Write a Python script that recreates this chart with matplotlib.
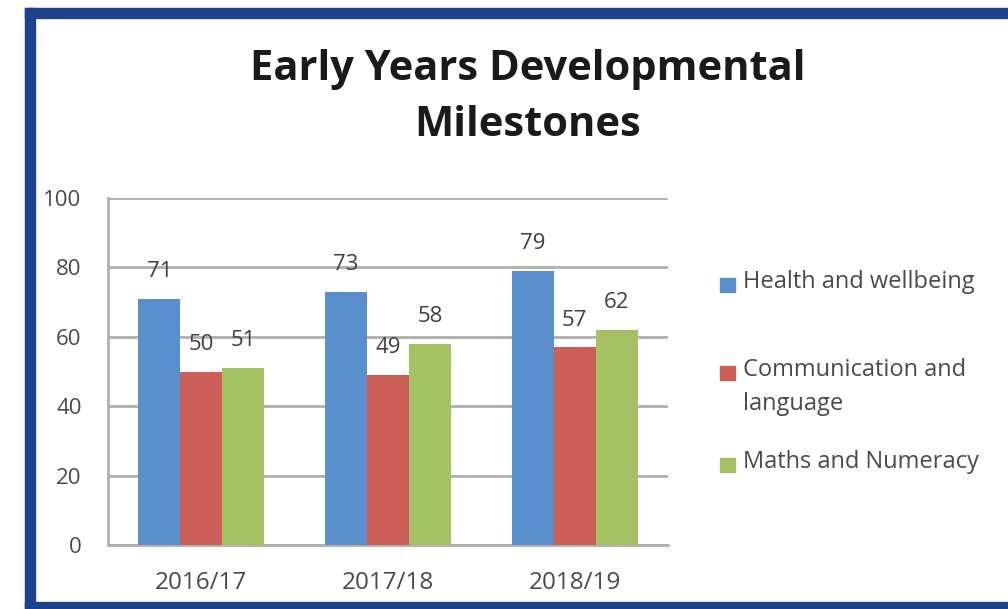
import numpy as np
import matplotlib.pyplot as plt
from matplotlib.patches import Rectangle

plt.rcParams['font.family'] = ['Open Sans', 'DejaVu Sans']

years = ['2016/17', '2017/18', '2018/19']
series = ['Health and wellbeing', 'Communication and\nlanguage', 'Maths and Numeracy']
health = [71, 73, 79]
communication = [50, 49, 57]
maths = [51, 58, 62]
colors = ['#5B8FCB', '#CD5F59', '#A4C263']

W, H = 1008, 609
fig = plt.figure(figsize=(W / 100, H / 100), dpi=100)
fig.patch.set_facecolor('white')

# axes placed in pixel terms
ax = fig.add_axes([108 / W, 1 - 545 / H, (668 - 108) / W, (545 - 198) / H])

x = np.arange(len(years))
bw = 0.225
for i, (vals, c) in enumerate(zip([health, communication, maths], colors)):
    pos = x + (i - 1) * bw
    ax.bar(pos, vals, bw, color=c, zorder=3)
    for px, v in zip(pos, vals):
        ax.annotate(str(v), (px, v), xytext=(0, 19.5), textcoords='offset points',
                    ha='center', va='center', fontsize=16, color='#404040', zorder=4)

ax.set_xlim(-0.5, 2.5)
ax.set_ylim(0, 100)
ax.set_yticks(range(0, 101, 20))
ax.set_xticks(x)
ax.set_xticklabels(years)
ax.grid(axis='y', color='#AFAFAF', linewidth=2, zorder=0)
ax.tick_params(axis='both', length=0, colors='#4A4A4A')
ax.tick_params(axis='y', pad=19, labelsize=16)
ax.tick_params(axis='x', pad=19, labelsize=17.5)
for s in ['top', 'right']:
    ax.spines[s].set_visible(False)
for s in ['left', 'bottom']:
    ax.spines[s].set_color('#AFAFAF')
    ax.spines[s].set_linewidth(2)

fig.text(528 / W, 1 - 70 / H, 'Early Years Developmental', ha='center', va='center',
         fontsize=30, fontweight='bold', color='#1A1A1A')
fig.text(528 / W, 1 - 125 / H, 'Milestones', ha='center', va='center',
         fontsize=30, fontweight='bold', color='#1A1A1A')

# legend drawn by hand to keep Excel-like layout
leg_y = [285, 373, 465]
for lab, c, yy in zip(series, colors, leg_y):
    fig.patches.append(Rectangle((720 / W, 1 - (yy + 7) / H), 15 / W, 14 / H,
                                 transform=fig.transFigure, color=c))
    fig.text(743 / W, 1 - (yy - 15) / H, lab, ha='left', va='top', fontsize=17,
             color='#4A4A4A', linespacing=1.55)

# navy frame
navy = '#1E418C'
fig.patches.append(Rectangle((25 / W, 1 - 18 / H), 1 - 25 / W, 10 / H,
                             transform=fig.transFigure, color=navy))
fig.patches.append(Rectangle((25 / W, 0), 10 / W, 1 - 8 / H,
                             transform=fig.transFigure, color=navy))
fig.patches.append(Rectangle((25 / W, 0), 1 - 25 / W, 7 / H,
                             transform=fig.transFigure, color=navy))

fig.savefig('out.png', dpi=100)
